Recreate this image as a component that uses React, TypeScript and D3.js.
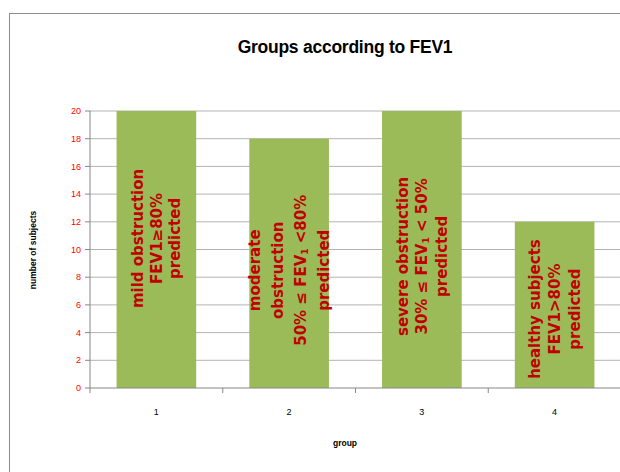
import React from "react";
import * as d3 from "d3";

const categories = ["1", "2", "3", "4"];
const values = [20, 18, 20, 12];
const yTicks = [0, 2, 4, 6, 8, 10, 12, 14, 16, 18, 20];
type Seg = { t: string; sub?: boolean };
const barLabels: Seg[][][] = [
  [[{ t: "mild obstruction" }], [{ t: "FEV1≥80%" }], [{ t: "predicted" }]],
  [
    [{ t: "moderate" }],
    [{ t: "obstruction" }],
    [{ t: "50% ≤ FEV" }, { t: "1", sub: true }, { t: " <80%" }],
    [{ t: "predicted" }],
  ],
  [
    [{ t: "severe obstruction" }],
    [{ t: "30% ≤ FEV" }, { t: "1", sub: true }, { t: " < 50%" }],
    [{ t: "predicted" }],
  ],
  [[{ t: "healthy subjects" }], [{ t: "FEV1>80%" }], [{ t: "predicted" }]],
];
const labelMid = [10.8, 8.5, 9.5, 5.7];
const lineGap = [18.5, 23, 19.5, 20];

export default function App() {
  const W = 620, H = 472;
  const left = 90, right = 621, top = 111, bottom = 388;
  const x = d3.scaleBand<string>().domain(categories).range([left, right]).paddingInner(0.4).paddingOuter(0.2);
  const xb = d3.scaleBand<string>().domain(categories).range([left, right]);
  const y = d3.scaleLinear().domain([0, 20]).range([bottom, top]);
  const fontUI = "'Liberation Sans', Arial, sans-serif";
  return (
    <svg width={W} height={H} style={{ position: "fixed", left: 0, top: 0, background: "#fff" }}>
      <rect x={0} y={0} width={W} height={H} fill="#fff" />
      <rect x={9.5} y={13.5} width={W + 20} height={H + 20} fill="none" stroke="#8c8c8c" strokeWidth={1} />
      <text x={345} y={53} textAnchor="middle" fontFamily={fontUI} fontWeight="bold" fontSize={17.5} letterSpacing={-0.25} fill="#000">
        Groups according to FEV1
      </text>
      {yTicks.filter((t) => t > 0).map((t) => (
        <line key={"g" + t} x1={left} x2={W} y1={y(t)} y2={y(t)} stroke="#b3b3b3" strokeWidth={1} />
      ))}
      {categories.map((c, i) => (
        <rect key={"b" + c} x={x(c)!} y={y(values[i])} width={x.bandwidth()} height={y(0) - y(values[i])} fill="#9bbb59" />
      ))}
      <line x1={left} x2={left} y1={top} y2={bottom} stroke="#868686" />
      <line x1={left} x2={W} y1={bottom} y2={bottom} stroke="#868686" />
      {yTicks.map((t) => (
        <g key={"t" + t}>
          <line x1={left - 5} x2={left} y1={y(t)} y2={y(t)} stroke="#868686" />
          <text x={left - 9} y={y(t)} dy="0.35em" textAnchor="end" fontFamily={fontUI} fontSize={9} fill="#ff0000">
            {t}
          </text>
        </g>
      ))}
      {categories.map((c) => (
        <line key={"xt" + c} x1={xb(c)!} x2={xb(c)!} y1={bottom} y2={bottom + 5} stroke="#868686" />
      ))}
      {categories.map((c) => (
        <text key={"xl" + c} x={xb(c)! + xb.bandwidth() / 2} y={415} textAnchor="middle" fontFamily={fontUI} fontSize={9} fill="#000">
          {c}
        </text>
      ))}
      <text x={345} y={446} textAnchor="middle" fontFamily={fontUI} fontWeight="bold" fontSize={8.5} fill="#000">
        group
      </text>
      <text transform={`translate(36,250) rotate(-90)`} textAnchor="middle" fontFamily={fontUI} fontWeight="bold" fontSize={8.5} fill="#000">
        number of subjects
      </text>
      {categories.map((c, i) => {
        const cx = x(c)! + x.bandwidth() / 2;
        const cy = y(labelMid[i]);
        const lines = barLabels[i];
        const n = lines.length;
        return (
          <g key={"lab" + c} transform={`translate(${cx},${cy}) rotate(-90)`}>
            {lines.map((segs, j) => (
              <text
                key={j}
                x={0}
                y={(j - (n - 1) / 2) * lineGap[i]}
                dy="0.36em"
                textAnchor="middle"
                fontFamily="'DejaVu Sans', Verdana, sans-serif"
                fontWeight="bold"
                fontSize={15}
                fill="#c00000"
              >
                {segs.map((s, k) =>
                  s.sub ? (
                    <tspan key={k} fontSize={9} baselineShift="-25%">
                      {s.t}
                    </tspan>
                  ) : (
                    <tspan key={k}>{s.t}</tspan>
                  )
                )}
              </text>
            ))}
          </g>
        );
      })}
    </svg>
  );
}
